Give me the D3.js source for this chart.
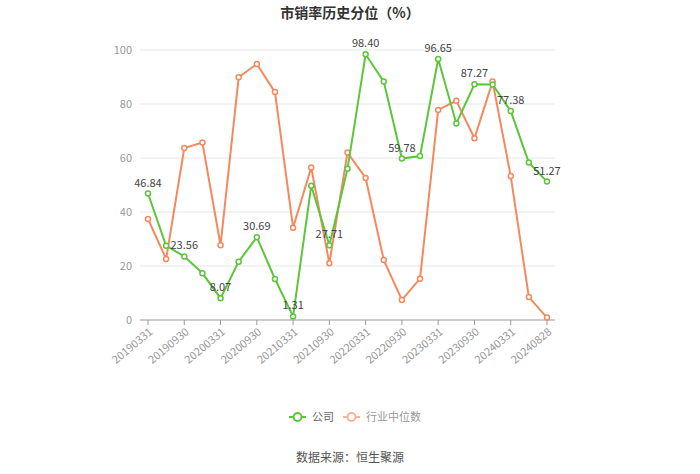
<!DOCTYPE html>
<html><head><meta charset="utf-8">
<script src="https://cdn.jsdelivr.net/npm/d3@7"></script>
<style>body{margin:0;background:#fff;}svg{display:block;font-family:"Noto Sans CJK SC","Noto Sans",sans-serif;}</style>
</head><body><svg id="c" width="700" height="474"></svg>
<script>
const categories = ["20190331","20190630","20190930","20191231","20200331","20200630","20200930","20201231","20210331","20210630","20210930","20211231","20220331","20220630","20220930","20221231","20230331","20230630","20230930","20231231","20240331","20240630","20240828"];
const companyValues = [46.84,27.5,23.56,17.3,8.07,21.6,30.69,15.2,1.31,49.7,27.71,56.0,98.40,88.3,59.78,60.7,96.65,72.8,87.27,87.2,77.38,58.3,51.27];
const industryValues = [37.4,22.6,63.7,65.7,27.7,89.9,94.8,84.4,34.2,56.5,21.0,62.0,52.6,22.2,7.4,15.3,77.8,81.2,67.3,88.3,53.3,8.5,0.9];
const yTicks = [0,20,40,60,80,100];
const seriesNames = ["公司","行业中位数"];
const colors = ["#5cc63a","#f5895e"];

const svg = d3.select("#c");
const x = d3.scalePoint().domain(categories).range([148,547]);
const y = d3.scaleLinear().domain([0,100]).range([320,50]);

svg.append("text").attr("x",350).attr("y",18).attr("text-anchor","middle")
  .attr("font-size",14).attr("font-weight","bold").attr("fill","#333").text("市销率历史分位（%）");

// grid
svg.append("g").selectAll("line").data(yTicks.filter(d=>d>0)).join("line")
  .attr("x1",140).attr("x2",555).attr("y1",d=>y(d)).attr("y2",d=>y(d))
  .attr("stroke","#e6e6e6").attr("stroke-width",1);
// y labels
svg.append("g").selectAll("text").data(yTicks).join("text")
  .attr("x",132).attr("y",d=>y(d)).attr("dy","0.35em").attr("text-anchor","end")
  .attr("font-size",11).attr("fill","#999").text(d=>d);

// x axis
const xa = svg.append("g").attr("transform","translate(0,320)");
xa.append("line").attr("x1",140).attr("x2",555).attr("stroke","#999");
const shown = categories.filter((d,i)=>i%2===0 || i===categories.length-1).filter(d=>d!=="20240630");
xa.selectAll("line.t").data(shown).join("line").attr("class","t")
  .attr("x1",d=>x(d)).attr("x2",d=>x(d)).attr("y1",0).attr("y2",5).attr("stroke","#999");
xa.selectAll("text").data(shown).join("text")
  .attr("transform",d=>`translate(${x(d)+3},${10}) rotate(-40)`)
  .attr("text-anchor","end").attr("dy","0.35em").attr("font-size",11).attr("fill","#999").text(d=>d);

const line = d3.line().x((d,i)=>x(categories[i])).y(d=>y(d));
[industryValues, companyValues].forEach((vals,k)=>{
  const c = k===0?colors[1]:colors[0];
  svg.append("path").datum(vals).attr("d",line).attr("fill","none").attr("stroke",c).attr("stroke-width",2);
  svg.append("g").selectAll("circle").data(vals).join("circle")
    .attr("cx",(d,i)=>x(categories[i])).attr("cy",d=>y(d)).attr("r",2.5)
    .attr("fill","#fff").attr("stroke",c).attr("stroke-width",1.5);
});
// labels
svg.append("g").selectAll("text").data(companyValues.map((v,i)=>({v,i})).filter(d=>d.i%2===0)).join("text")
  .attr("x",d=>x(categories[d.i])).attr("y",d=>y(d.v)-7).attr("text-anchor","middle")
  .attr("font-size",11).attr("fill","#444").text(d=>d.v.toFixed(2));

// legend
const lg = svg.append("g");
[[289,colors[0],"#666"],[343,"#f7b49a","#999"]].forEach((p,k)=>{
  lg.append("line").attr("x1",p[0]).attr("x2",p[0]+17).attr("y1",417).attr("y2",417).attr("stroke",p[1]).attr("stroke-width",2);
  lg.append("circle").attr("cx",p[0]+8.5).attr("cy",417).attr("r",4).attr("fill","#fff").attr("stroke",p[1]).attr("stroke-width",2);
  lg.append("text").attr("x",p[0]+23).attr("y",417).attr("dy","0.35em").attr("font-size",11).attr("fill",p[2]).text(seriesNames[k]);
});
svg.append("text").attr("x",350).attr("y",458).attr("dy","0.35em").attr("text-anchor","middle")
  .attr("font-size",12).attr("fill","#555").text("数据来源：恒生聚源");
</script></body></html>
